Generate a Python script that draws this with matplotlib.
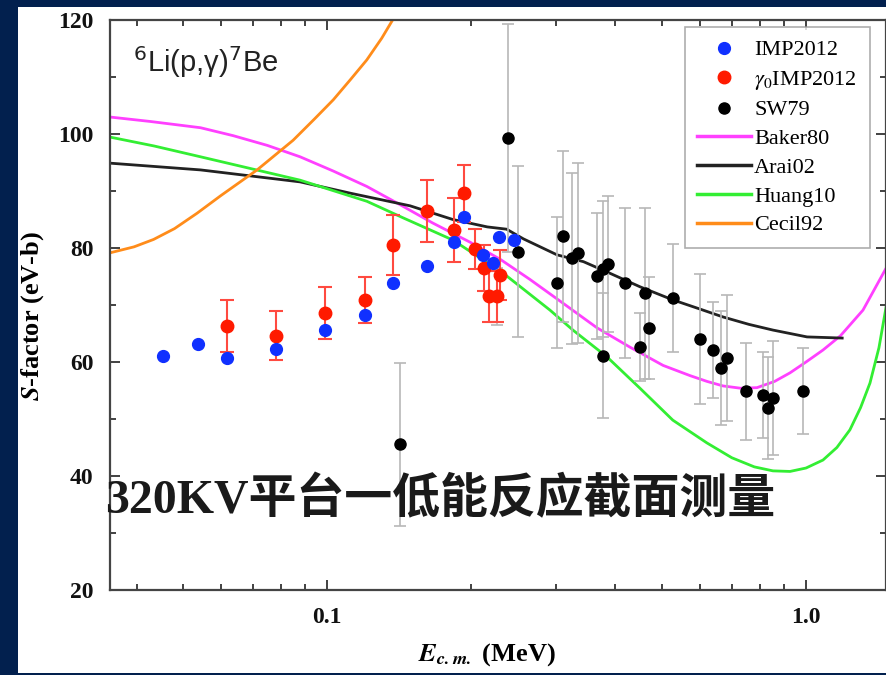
import numpy as np
import matplotlib.pyplot as plt
from matplotlib.lines import Line2D
from matplotlib.patches import Rectangle
from matplotlib.ticker import FixedLocator, NullFormatter

plt.rcParams['font.family'] = ['Liberation Serif', 'DejaVu Serif']
plt.rcParams['mathtext.fontset'] = 'stix'

# IMP2012 (blue)
imp_x = [0.0455, 0.0537, 0.0619, 0.0783, 0.0990, 0.120, 0.137, 0.162, 0.184, 0.193, 0.212, 0.222, 0.229, 0.246]
imp_y = [61.1, 63.2, 60.7, 62.3, 65.6, 68.2, 73.9, 76.8, 81.1, 85.4, 78.8, 77.4, 81.9, 81.4]

# gamma0 IMP2012 (red)
g0_x = [0.0619, 0.0783, 0.0990, 0.120, 0.137, 0.162, 0.184, 0.193, 0.204, 0.213, 0.218, 0.226, 0.230]
g0_y = [66.3, 64.6, 68.6, 70.9, 80.5, 86.5, 83.2, 89.6, 79.8, 76.5, 71.5, 71.5, 75.3]
g0_err = [4.5, 4.3, 4.6, 4.0, 5.3, 5.4, 5.6, 5.0, 3.5, 4.0, 4.5, 4.5, 4.4]

# SW79 (black)
sw_x = [0.142, 0.226, 0.239, 0.250, 0.302, 0.311, 0.325, 0.334, 0.366, 0.377, 0.377, 0.386, 0.419,
        0.450, 0.461, 0.470, 0.527, 0.601, 0.640, 0.665, 0.684, 0.749, 0.813, 0.833, 0.853, 0.986]
sw_y = [45.6, 71.5, 99.3, 79.3, 73.9, 82.1, 78.2, 79.1, 75.1, 76.3, 61.1, 77.2, 73.9,
        62.6, 72.1, 66.0, 71.2, 64.0, 62.1, 58.9, 60.7, 54.9, 54.2, 51.9, 53.7, 54.9]
sw_err = [14.3, 5.0, 20.0, 15.0, 11.5, 15.0, 15.0, 15.8, 11.0, 12.0, 11.0, 12.0, 13.2,
          6.0, 15.0, 9.0, 9.5, 11.4, 8.5, 10.0, 11.0, 8.5, 7.5, 9.0, 10.0, 7.5]

# theory curves
baker_x = [0.035, 0.0427, 0.0544, 0.0637, 0.075, 0.0878, 0.103, 0.121, 0.142, 0.166, 0.199, 0.230,
           0.265, 0.311, 0.366, 0.429, 0.503, 0.573, 0.621, 0.671, 0.73, 0.79, 0.86, 0.926, 1.0,
           1.085, 1.18, 1.315, 1.475]
baker_y = [103.0, 102.2, 101.1, 99.7, 98.0, 96.0, 93.5, 90.8, 87.6, 84.4, 81.0, 78.0,
           74.5, 70.3, 66.0, 62.6, 59.4, 57.6, 56.6, 55.8, 55.4, 55.5, 56.6, 58.1, 60.0,
           62.1, 64.6, 69.1, 76.7]

arai_x = [0.035, 0.0544, 0.0878, 0.112, 0.149, 0.183, 0.216, 0.237, 0.257, 0.302, 0.343, 0.384,
          0.450, 0.527, 0.600, 0.671, 0.76, 0.853, 1.005, 1.19]
arai_y = [94.9, 93.7, 91.6, 89.6, 87.4, 85.0, 83.7, 83.3, 81.6, 78.8, 77.6, 75.8,
          73.2, 70.9, 69.3, 67.9, 66.6, 65.6, 64.4, 64.2]

huang_x = [0.035, 0.0435, 0.0544, 0.0878, 0.121, 0.144, 0.183, 0.233, 0.292, 0.326, 0.384, 0.450,
           0.527, 0.621, 0.70, 0.78, 0.853, 0.926, 1.0, 1.085, 1.16, 1.235, 1.30, 1.36, 1.42, 1.475]
huang_y = [99.5, 97.9, 96.0, 91.9, 88.2, 85.3, 81.4, 75.6, 69.1, 65.6, 60.9, 55.4,
           49.8, 45.8, 43.2, 41.6, 40.9, 40.8, 41.4, 42.8, 45.0, 48.1, 52.0, 56.3, 62.5, 70.4]

cecil_x = [0.035, 0.0395, 0.0434, 0.048, 0.0535, 0.06, 0.0714, 0.0849, 0.094, 0.103, 0.112,
           0.121, 0.13, 0.137, 0.142]
cecil_y = [79.1, 80.2, 81.5, 83.4, 86.1, 89.2, 93.7, 98.9, 102.6, 106.0, 109.6,
           113.0, 116.8, 120.0, 122.0]

navy = '#02204e'
fig = plt.figure(figsize=(8.87, 6.75), dpi=100)
fig.patch.set_facecolor(navy)
fig.add_artist(Rectangle((18 / 887, 2 / 675), 1, 666 / 675, transform=fig.transFigure,
                         facecolor='white', edgecolor='none', zorder=0))

ax = fig.add_axes([110 / 887, 1 - 590 / 675, 776 / 887, 570 / 675])
ax.set_xscale('log')
ax.set_xlim(0.0352, 1.469)
ax.set_ylim(20, 120)

lw = 2.0
ax.plot(baker_x, baker_y, color='#ff40ff', lw=lw, zorder=2)
ax.plot(arai_x, arai_y, color='#222222', lw=lw, zorder=2)
ax.plot(huang_x, huang_y, color='#33ee33', lw=lw, zorder=2)
ax.plot(cecil_x, cecil_y, color='#ff8c1a', lw=lw, zorder=2)

ax.errorbar(sw_x, sw_y, yerr=sw_err, fmt='o', color='black', ms=8, ecolor='#b8b8b8',
            elinewidth=1.2, capsize=4, capthick=1.2, zorder=3)
ax.errorbar(g0_x, g0_y, yerr=g0_err, fmt='o', color='#ff1a00', ms=9, ecolor='#ff4a40',
            elinewidth=1.5, capsize=5, capthick=1.5, zorder=4)
ax.plot(imp_x, imp_y, 'o', color='#1030ff', ms=8.5, zorder=5)

# axes styling
ax.xaxis.set_major_locator(FixedLocator([0.1, 1.0]))
ax.set_xticklabels(['0.1', '1.0'])
ax.xaxis.set_minor_locator(FixedLocator([0.04, 0.05, 0.06, 0.07, 0.08, 0.09,
                                         0.2, 0.3, 0.4, 0.5, 0.6, 0.7, 0.8, 0.9]))
ax.xaxis.set_minor_formatter(NullFormatter())
ax.set_yticks([20, 40, 60, 80, 100, 120])
ax.set_yticks([30, 50, 70, 90, 110], minor=True)
ax.tick_params(which='both', direction='in', top=True, right=True, colors='#333333',
               labelcolor='#111111', width=1.3)
ax.tick_params(which='major', length=7, labelsize=17)
ax.tick_params(axis='y', which='major', pad=12)
ax.tick_params(axis='x', which='major', pad=12)
ax.tick_params(which='minor', length=4)
for lab in ax.get_xticklabels() + ax.get_yticklabels():
    lab.set_fontweight('bold')
for sp in ax.spines.values():
    sp.set_color('#444444')
    sp.set_linewidth(1.6)

ax.set_ylabel(r'$\mathbfit{S}$-factor (eV-b)', fontsize=19, fontweight='bold')
ax.yaxis.set_label_coords((46 - 110) / 776, 0.48)
ax.set_xlabel(r'$\mathbfit{E}_{\mathbfit{c.m.}}$ (MeV)', fontsize=19, fontweight='bold')
ax.xaxis.set_label_coords(0.485, -(641 - 590) / 570)

ax.text(0.03, 0.909, r'$^{6}$Li(p,γ)$^{7}$Be', transform=ax.transAxes, fontsize=21,
        family='Liberation Sans', math_fontfamily='dejavusans', va='baseline', color='#222222')

handles = [
    Line2D([], [], ls='none', marker='o', color='#1030ff', ms=8.5),
    Line2D([], [], ls='none', marker='o', color='#ff1a00', ms=9),
    Line2D([], [], ls='none', marker='o', color='black', ms=8),
    Line2D([], [], color='#ff40ff', lw=2.5),
    Line2D([], [], color='#222222', lw=2.5),
    Line2D([], [], color='#33ee33', lw=2.5),
    Line2D([], [], color='#ff8c1a', lw=2.5),
]
labels = ['IMP2012', r'$\gamma_0$IMP2012', 'SW79', 'Baker80', 'Arai02', 'Huang10', 'Cecil92']
leg = ax.legend(handles, labels, loc='upper right', bbox_to_anchor=(0.979, 0.988),
                borderaxespad=0, fontsize=16, frameon=True, fancybox=False, edgecolor='#999999',
                handlelength=2.4, handletextpad=0.15, labelspacing=0.37, borderpad=0.58)
leg.get_frame().set_linewidth(1.2)

fig.text(105 / 887, 1 - 513 / 675, '320KV平台一低能反应截面测量', fontsize=34.5, fontweight='bold',
         family=['Liberation Serif', 'Noto Sans CJK SC'], color='#1a1a1a', va='baseline', zorder=10)

fig.savefig('out.png', dpi=100, facecolor=fig.get_facecolor())
